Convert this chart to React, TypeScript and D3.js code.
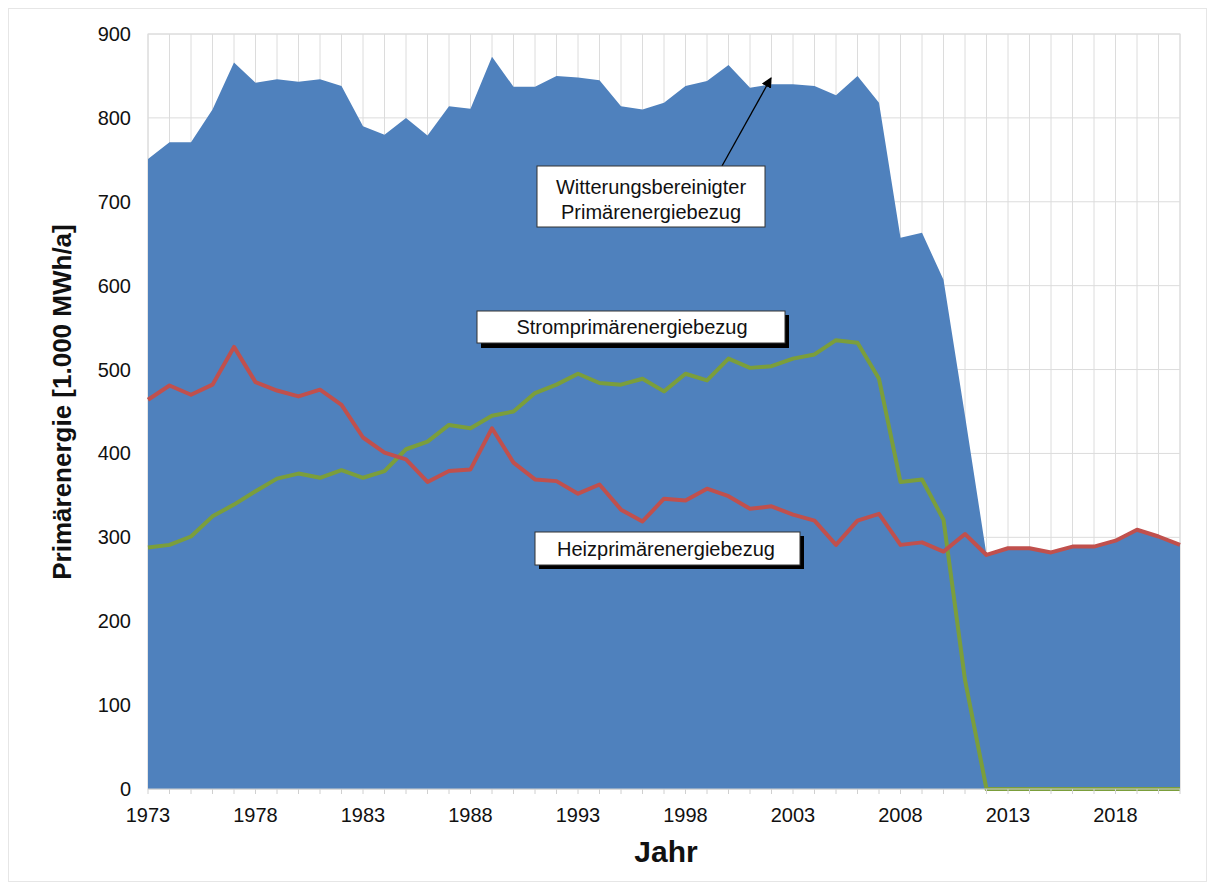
import React from "react";
import * as d3 from "d3";

const years = [
  1973, 1974, 1975, 1976, 1977, 1978, 1979, 1980, 1981, 1982,
  1983, 1984, 1985, 1986, 1987, 1988, 1989, 1990, 1991, 1992,
  1993, 1994, 1995, 1996, 1997, 1998, 1999, 2000, 2001, 2002,
  2003, 2004, 2005, 2006, 2007, 2008, 2009, 2010, 2011, 2012,
  2013, 2014, 2015, 2016, 2017, 2018, 2019, 2020, 2021,
];

// Witterungsbereinigter Primärenergiebezug
const weatherAdjusted = [
  751, 771, 771, 810, 866, 842, 846, 843, 846, 838,
  790, 780, 800, 779, 814, 811, 873, 837, 837, 850,
  848, 845, 814, 810, 818, 838, 844, 863, 836, 840,
  840, 838, 827, 850, 818, 657, 663, 607, 445, 279,
  287, 287, 282, 289, 289, 296, 309, 301, 291,
];

// Heizprimärenergiebezug
const heating = [
  464, 481, 470, 482, 527, 485, 475, 468, 476, 458,
  419, 401, 393, 366, 379, 381, 430, 389, 369, 367,
  352, 363, 333, 319, 346, 344, 358, 349, 334, 337,
  327, 320, 291, 320, 328, 291, 294, 283, 304, 279,
  287, 287, 282, 289, 289, 296, 309, 301, 291,
];

// Stromprimärenergiebezug
const electricity = [
  288, 291, 301, 325, 339, 355, 370, 376, 371, 380,
  371, 379, 405, 414, 434, 430, 445, 450, 472, 482,
  495, 484, 482, 489, 474, 495, 487, 513, 502, 504,
  513, 518, 535, 532, 489, 366, 369, 321, 130, 0,
  0, 0, 0, 0, 0, 0, 0, 0, 0,
];

const xTickLabels = [1973, 1978, 1983, 1988, 1993, 1998, 2003, 2008, 2013, 2018];
const yTickLabels = [0, 100, 200, 300, 400, 500, 600, 700, 800, 900];

const W = 1212;
const H = 888;
const left = 148;
const right = 1180;
const top = 34;
const bottom = 789;

const FONT = "'Liberation Sans', Arial, sans-serif";

export default function App() {
  const x = d3.scaleLinear().domain([years[0], years[years.length - 1]]).range([left, right]);
  const y = d3.scaleLinear().domain([0, 900]).range([bottom, top]);

  const area = d3
    .area<number>()
    .x((_, i) => x(years[i]))
    .y0(y(0))
    .y1((d) => y(d));
  const line = d3
    .line<number>()
    .x((_, i) => x(years[i]))
    .y((d) => y(d));

  const grid = "#dcdcdc";

  return (
    <svg
      width={W}
      height={H}
      style={{ position: "absolute", left: 0, top: 0, background: "#fff" }}
      fontFamily={FONT}
    >
      <rect x={8.5} y={8.5} width={1198} height={873} fill="#fff" stroke="#e6e6e6" />
      {/* grid */}
      {years.map((yr) => (
        <line key={"vg" + yr} x1={x(yr)} x2={x(yr)} y1={top} y2={bottom} stroke={grid} strokeWidth={1} />
      ))}
      {yTickLabels.map((v) => (
        <line key={"hg" + v} x1={left} x2={right} y1={y(v)} y2={y(v)} stroke={grid} strokeWidth={1} />
      ))}
      <rect x={left} y={top} width={right - left} height={bottom - top} fill="none" stroke={grid} />

      {/* area */}
      <path d={area(weatherAdjusted) || ""} fill="#4f81bd" />

      {/* lines */}
      <path d={line(electricity) || ""} fill="none" stroke="#7b9e3b" strokeWidth={4} strokeLinejoin="round" />
      <path d={line(heating) || ""} fill="none" stroke="#c0504d" strokeWidth={4} strokeLinejoin="round" />

      {/* x axis ticks */}
      <line x1={left} x2={right} y1={bottom} y2={bottom} stroke="#d0d0d0" />
      {years.map((yr) => (
        <line key={"xt" + yr} x1={x(yr)} x2={x(yr)} y1={bottom} y2={bottom + 5} stroke="#d0d0d0" />
      ))}
      {xTickLabels.map((yr) => (
        <text key={"xl" + yr} x={x(yr)} y={bottom + 33} fontSize={20} textAnchor="middle" fill="#111">
          {yr}
        </text>
      ))}
      {yTickLabels.map((v) => (
        <text key={"yl" + v} x={131} y={y(v) + 7} fontSize={20} textAnchor="end" fill="#111">
          {v}
        </text>
      ))}

      {/* axis titles */}
      <text x={666} y={862} fontSize={30} fontWeight="bold" textAnchor="middle" fill="#111">
        Jahr
      </text>
      <text
        transform={`translate(71, ${402}) rotate(-90)`}
        fontSize={26}
        fontWeight="bold"
        textAnchor="middle"
        fill="#111"
      >
        Primärenergie [1.000 MWh/a]
      </text>

      {/* annotation: weather adjusted */}
      <defs>
        <marker id="arr" viewBox="0 0 10 10" refX="9" refY="5" markerWidth="8" markerHeight="8" orient="auto">
          <path d="M0,0 L10,5 L0,10 z" fill="#000" />
        </marker>
      </defs>
      <line x1={722} y1={166} x2={771} y2={78} stroke="#000" strokeWidth={1.3} markerEnd="url(#arr)" />
      <rect x={537} y={166} width={228} height={61} fill="#fff" stroke="#333" strokeWidth={1} />
      <text x={651} y={194} fontSize={20} textAnchor="middle" fill="#111">
        Witterungsbereinigter
      </text>
      <text x={651} y={219} fontSize={20} textAnchor="middle" fill="#111">
        Primärenergiebezug
      </text>

      {/* annotation: electricity */}
      <rect x={481} y={315} width={308} height={33} fill="#000" />
      <rect x={477} y={311} width={308} height={32} fill="#fff" stroke="#333" strokeWidth={1} />
      <text x={632} y={334} fontSize={20} textAnchor="middle" fill="#111">
        Stromprimärenergiebezug
      </text>

      {/* annotation: heating */}
      <rect x={539} y={536} width={265} height={33} fill="#000" />
      <rect x={535} y={532} width={265} height={33} fill="#fff" stroke="#333" strokeWidth={1} />
      <text x={666} y={556} fontSize={20} textAnchor="middle" fill="#111">
        Heizprimärenergiebezug
      </text>
    </svg>
  );
}
